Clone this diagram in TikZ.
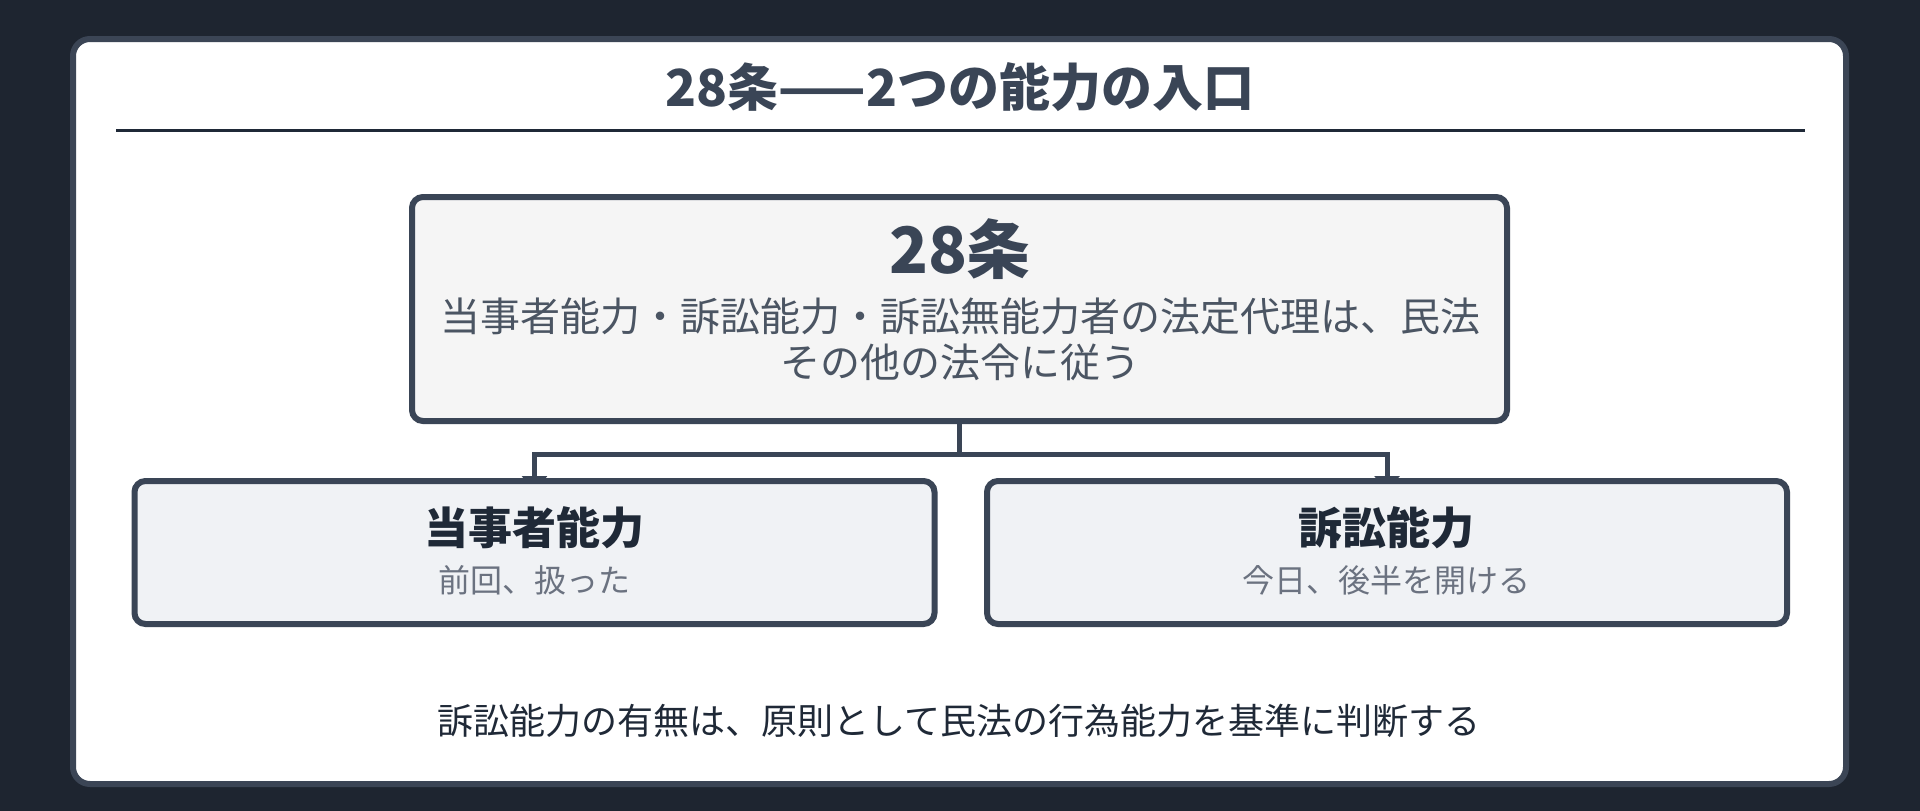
\documentclass[tikz,border=0pt]{standalone}
\usepackage{fontspec}
\setmainfont{Noto Sans CJK JP}
\usetikzlibrary{arrows.meta}
\definecolor{bgdark}{HTML}{1E2530}
\definecolor{cardline}{HTML}{3B4555}
\definecolor{slate}{HTML}{3A4556}
\definecolor{txtmid}{HTML}{4B5563}
\definecolor{txtdark}{HTML}{1F2937}
\definecolor{txtsub}{HTML}{6B7280}
\definecolor{topfill}{HTML}{F5F5F5}
\definecolor{childfill}{HTML}{F0F2F5}
\pgfdeclarelayer{back}
\pgfdeclarelayer{edges}
\pgfsetlayers{back,edges,main}
\tikzset{
  boxbase/.style={draw=slate, line width=6pt, rounded corners=11pt, inner sep=0pt},
  topbox/.style={boxbase, fill=topfill, minimum width=1095pt, minimum height=224pt},
  childbox/.style={boxbase, fill=childfill, minimum width=800pt, minimum height=143pt},
  lbl/.style={inner sep=0pt, outer sep=0pt, anchor=center},
  conn/.style={draw=slate, line width=5pt, -{Triangle[length=14pt,width=25pt]}, shorten >=-12pt},
}
\begin{document}
\begin{tikzpicture}[x=1pt,y=-1pt]
\useasboundingbox (0,0) rectangle (1920,811);
% nodes
\node[lbl, text=slate, font=\fontsize{51}{60}\selectfont\bfseries] (title) at (960,87) {28条——2つの能力の入口};
\node[topbox] (top) at (959.5,309) {};
\node[lbl, text=slate, font=\fontsize{64}{74}\selectfont\bfseries] (topT) at (960,249) {28条};
\node[lbl, text=txtmid, font=\fontsize{40}{46}\selectfont] (topL1) at (960,316) {当事者能力・訴訟能力・訴訟無能力者の法定代理は、民法};
\node[lbl, text=txtmid, font=\fontsize{40}{46}\selectfont] (topL2) at (960,362) {その他の法令に従う};
\node[childbox] (left) at (534.5,552.5) {};
\node[lbl, text=txtdark, font=\fontsize{44}{52}\selectfont\bfseries] (leftT) at (534,528) {当事者能力};
\node[lbl, text=txtsub, font=\fontsize{32}{38}\selectfont] (leftS) at (534,580) {前回、扱った};
\node[childbox] (right) at (1387,552.5) {};
\node[lbl, text=txtdark, font=\fontsize{44}{52}\selectfont\bfseries] (rightT) at (1386,528) {訴訟能力};
\node[lbl, text=txtsub, font=\fontsize{32}{38}\selectfont] (rightS) at (1386,580) {今日、後半を開ける};
\node[lbl, text=txtdark, font=\fontsize{36}{42}\selectfont] (note) at (959,721) {訴訟能力の有無は、原則として民法の行為能力を基準に判断する};
% background and card
\begin{pgfonlayer}{back}
  \fill[bgdark] (0,0) rectangle (1920,811);
  \draw[draw=cardline, fill=white, line width=6pt, rounded corners=17pt] (73,39) rectangle (1846,784);
  \draw[draw=txtdark, line width=3.3pt] (116,130.3) -- (1805,130.3);
\end{pgfonlayer}
% connectors
\begin{pgfonlayer}{edges}
  \draw[conn] (top.south) -- ++(0,30.5) -| (left.north);
  \draw[conn] (top.south) -- ++(0,30.5) -| (right.north);
\end{pgfonlayer}
\end{tikzpicture}
\end{document}
